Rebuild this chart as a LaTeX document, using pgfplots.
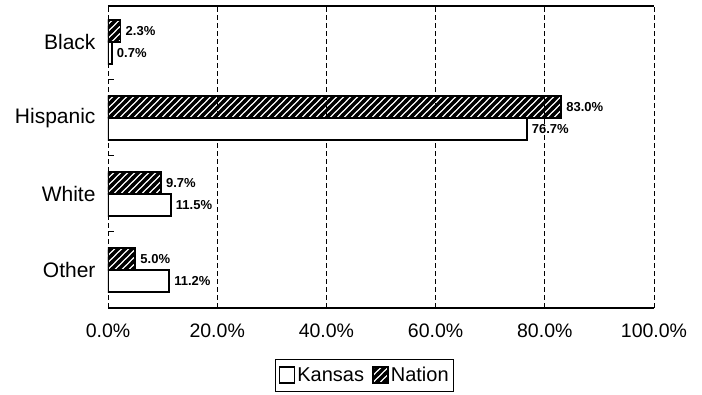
\documentclass[border=0pt]{standalone}
\usepackage{fontspec}
\setmainfont{Liberation Sans}
\usepackage{pgfplots}
\pgfplotsset{compat=1.18}
\usetikzlibrary{patterns}

% thick diagonal hatching, as in the reference
\pgfdeclarepatternformonly{thickhatch}{\pgfqpoint{-1pt}{-1pt}}{\pgfqpoint{8pt}{8pt}}{\pgfqpoint{7pt}{7pt}}{%
  \pgfsetlinewidth{3.2pt}%
  \pgfpathmoveto{\pgfqpoint{-1pt}{-1pt}}\pgfpathlineto{\pgfqpoint{8pt}{8pt}}%
  \pgfpathmoveto{\pgfqpoint{-1pt}{6pt}}\pgfpathlineto{\pgfqpoint{1pt}{8pt}}%
  \pgfpathmoveto{\pgfqpoint{6pt}{-1pt}}\pgfpathlineto{\pgfqpoint{8pt}{1pt}}%
  \pgfusepath{stroke}}
\tikzset{hatch/.style={pattern=thickhatch, pattern color=black}}

\begin{document}
\begin{tikzpicture}
\begin{axis}[
    at={(0,0)}, anchor=south west,
    scale only axis,
    width=546pt, height=302pt,
    xbar=0pt,
    bar width=22pt,
    xmin=0, xmax=100,
    ymin=-0.5, ymax=3.47,
    xtick={0,20,40,60,80,100},
    xticklabel={\pgfmathprintnumber[fixed,fixed zerofill,precision=1]{\tick}\%},
    xmajorgrids,
    grid style={black, dash pattern=on 5pt off 3pt, line width=0.8pt},
    major x tick style={draw=none},
    ytick={0,1,2,3},
    yticklabels={Other,White,Hispanic,Black},
    major y tick style={draw=none},
    minor ytick={0.5,1.5,2.5},
    minor y tick style={black, line width=1pt},
    minor tick length=6pt,
    tick align=inside,
    ytick pos=left,
    xtick pos=bottom,
    separate axis lines,
    x axis line style={line width=1.4pt},
    y axis line style={line width=0.9pt, dash pattern=on 5pt off 3pt},
    xticklabel style={font=\fontsize{19.5}{21}\selectfont, yshift=-12pt},
    yticklabel style={font=\fontsize{21}{23}\selectfont, xshift=-9pt},
    /pgf/number format/assume math mode=true,
    nodes near coords={\pgfmathprintnumber[fixed,fixed zerofill,precision=1]{\pgfplotspointmeta}\%},
    every node near coord/.append style={font=\bfseries\fontsize{13}{14}\selectfont, anchor=west, xshift=1pt, black},
    legend columns=2,
    legend style={at={(0.47,-0.168)}, anchor=north, draw=black, line width=0.6pt,
        font=\fontsize{20}{22}\selectfont, /tikz/every even column/.append style={column sep=6pt},
        inner xsep=3pt, inner ysep=6pt},
    legend image code/.code={\draw[#1, line width=1.8pt] (0pt,-8pt) rectangle (15pt,8pt);},
]
\addplot+[draw=black, fill=white, line width=1.6pt] coordinates {
(11.2,0) (11.5,1) (76.7,2) (0.7,3)
};
\addplot+[draw=black, hatch, line width=1.6pt] coordinates {
(5.0,0) (9.7,1) (83.0,2) (2.3,3)
};
\legend{Kansas, Nation}
\end{axis}
\pgfresetboundingbox
\path (-108pt,-87pt) rectangle (594pt,308pt);
\end{tikzpicture}
\end{document}
